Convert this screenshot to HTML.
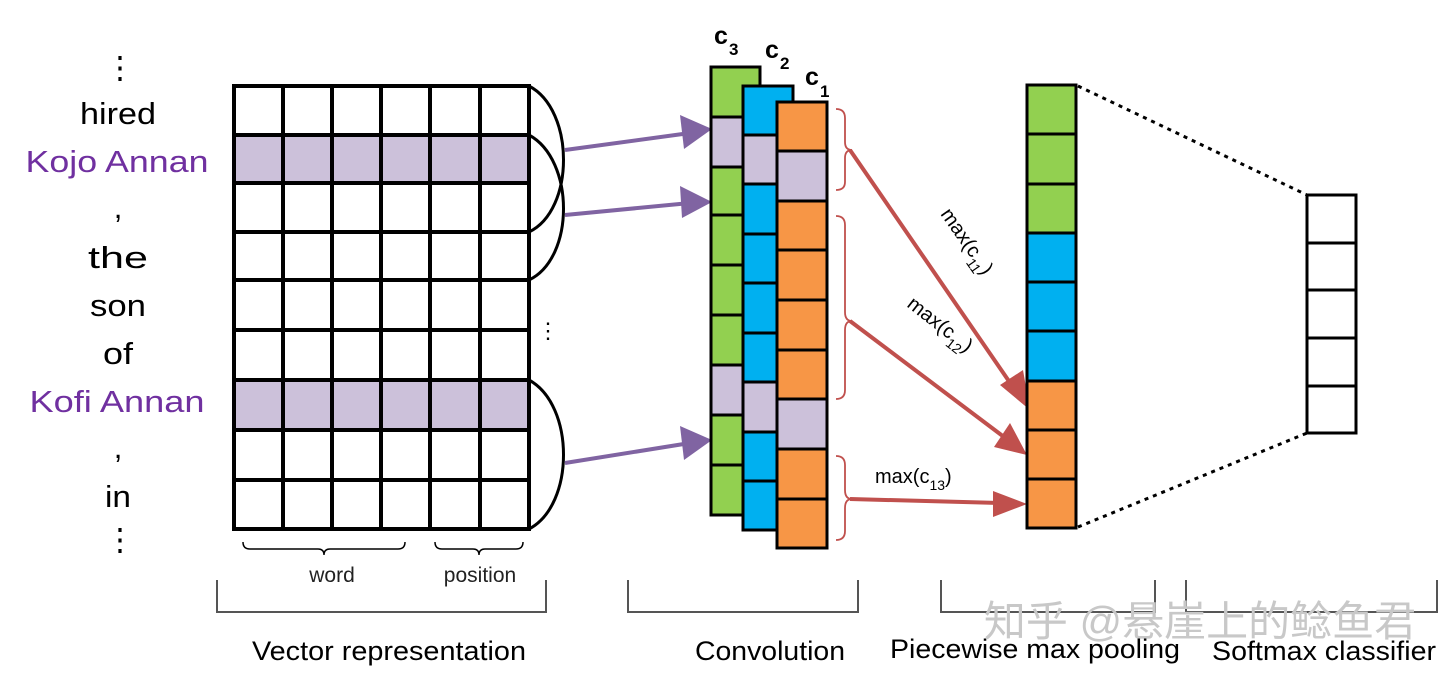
<!DOCTYPE html>
<html><head><meta charset="utf-8"><style>
html,body{margin:0;padding:0;background:#fff;width:1456px;height:678px;overflow:hidden}
text{font-family:"Liberation Sans","Noto Sans CJK SC",sans-serif}
</style></head><body>
<svg width="1456" height="678" viewBox="0 0 1456 678" xmlns="http://www.w3.org/2000/svg">
<!-- left words -->
<g font-size="31" text-anchor="middle" fill="#000" lengthAdjust="spacingAndGlyphs">
<text x="120" y="78">⋮</text>
<text x="118" y="124" textLength="76" lengthAdjust="spacingAndGlyphs">hired</text>
<text x="117" y="172" fill="#7030a0" textLength="183" lengthAdjust="spacingAndGlyphs">Kojo Annan</text>
<text x="118" y="218">,</text>
<text x="118" y="268" textLength="60" lengthAdjust="spacingAndGlyphs">the</text>
<text x="118" y="316" textLength="56" lengthAdjust="spacingAndGlyphs">son</text>
<text x="118" y="364" textLength="30" lengthAdjust="spacingAndGlyphs">of</text>
<text x="117" y="412" fill="#7030a0" textLength="175" lengthAdjust="spacingAndGlyphs">Kofi Annan</text>
<text x="118" y="458">,</text>
<text x="118" y="507" textLength="26" lengthAdjust="spacingAndGlyphs">in</text>
<text x="120" y="550">⋮</text>
</g>
<!-- grid -->
<rect x="234" y="135" width="295" height="48" fill="#ccc1da"/>
<rect x="234" y="380" width="295" height="50" fill="#ccc1da"/>
<g stroke="#000" stroke-width="4" fill="none">
<rect x="234" y="86" width="295" height="443"/>
<path d="M283,86V529M332,86V529M381,86V529M430,86V529M480,86V529"/>
<path d="M234,135H529M234,183H529M234,232H529M234,280H529M234,330H529M234,380H529M234,430H529M234,480H529"/>
</g>
<g stroke="#000" stroke-width="3" fill="none">
<path d="M529,86 C575,110 575,210 529,232"/>
<path d="M529,135 C575,160 575,258 529,280"/>
<path d="M529,380 C575,405 575,505 529,529"/>
</g>
<text x="548" y="338" font-size="22" text-anchor="middle">⋮</text>
<!-- purple arrows -->
<g stroke="#8064a2" stroke-width="4" fill="#8064a2">
<line x1="565" y1="150" x2="690" y2="133"/>
<line x1="565" y1="215" x2="690" y2="203"/>
<line x1="565" y1="463" x2="690" y2="443"/>
<path d="M712,129 L680,115 L684,149z" stroke="none"/>
<path d="M712,202 L680,186 L682,218z" stroke="none"/>
<path d="M712,440 L680,426 L684,460z" stroke="none"/>
</g>
<!-- conv columns -->
<g stroke="#000" stroke-width="3">
<g>
<rect x="711" y="67" width="49" height="448" fill="#92d050"/>
<rect x="711" y="117" width="49" height="50" fill="#ccc1da"/>
<rect x="711" y="365" width="49" height="50" fill="#ccc1da"/>
<path d="M711,117H760M711,167H760M711,215H760M711,265H760M711,315H760M711,365H760M711,415H760M711,465H760" fill="none"/>
</g>
<g>
<rect x="743" y="86" width="50" height="444" fill="#00b0f0"/>
<rect x="743" y="135" width="50" height="49" fill="#ccc1da"/>
<rect x="743" y="382" width="50" height="50" fill="#ccc1da"/>
<path d="M743,135H793M743,184H793M743,234H793M743,283H793M743,333H793M743,382H793M743,432H793M743,481H793" fill="none"/>
</g>
<g>
<rect x="777" y="102" width="50" height="446" fill="#f79646"/>
<rect x="777" y="151" width="50" height="50" fill="#ccc1da"/>
<rect x="777" y="399" width="50" height="50" fill="#ccc1da"/>
<path d="M777,151H827M777,201H827M777,250H827M777,300H827M777,350H827M777,399H827M777,449H827M777,499H827" fill="none"/>
</g>
</g>
<g font-size="25" font-weight="bold">
<text x="714" y="44">c</text><text x="729" y="55" font-size="17">3</text>
<text x="765" y="58">c</text><text x="780" y="69" font-size="17">2</text>
<text x="805" y="85">c</text><text x="820" y="97" font-size="17">1</text>
</g>
<!-- braces -->
<g stroke="#c0504d" stroke-width="1.8" fill="none">
<path d="M836,109 Q845,109 845,118 L845,142 Q845,150 852,150 Q845,150 845,158 L845,182 Q845,190 836,190"/>
<path d="M836,216 Q845,216 845,225 L845,312 Q845,321 852,321 Q845,321 845,330 L845,390 Q845,399 836,399"/>
<path d="M836,456 Q845,456 845,465 L845,490 Q845,499 852,499 Q845,499 845,508 L845,531 Q845,540 836,540"/>
</g>
<!-- red arrows -->
<g stroke="#c0504d" stroke-width="4" fill="#c0504d">
<line x1="850" y1="150" x2="1015" y2="390"/>
<line x1="850" y1="321" x2="1008" y2="440"/>
<line x1="850" y1="499" x2="1000" y2="503"/>
<path d="M1030,410 L1000,385 L1023,370z" stroke="none"/>
<path d="M1027,455 L994,447 L1010,423z" stroke="none"/>
<path d="M1027,504 L993,491 L993,517z" stroke="none"/>
</g>
<g font-size="20">
<text transform="translate(940,214) rotate(55)">max(c<tspan font-size="14" dy="7">11</tspan><tspan dy="-7">)</tspan></text>
<text transform="translate(906,306) rotate(38)">max(c<tspan font-size="14" dy="7">12</tspan><tspan dy="-7">)</tspan></text>
<text x="875" y="483">max(c<tspan font-size="14" dy="7">13</tspan><tspan dy="-7">)</tspan></text>
</g>
<!-- pooling column -->
<g stroke="#000" stroke-width="3">
<rect x="1027" y="85" width="49" height="148" fill="#92d050"/>
<rect x="1027" y="233" width="49" height="148" fill="#00b0f0"/>
<rect x="1027" y="381" width="49" height="147" fill="#f79646"/>
<path d="M1027,134H1076M1027,184H1076M1027,282H1076M1027,331H1076M1027,430H1076M1027,479H1076" fill="none"/>
</g>
<g stroke="#000" stroke-width="3" stroke-dasharray="4,5" fill="none">
<line x1="1078" y1="86" x2="1307" y2="195"/>
<line x1="1078" y1="527" x2="1307" y2="433"/>
</g>
<g stroke="#000" stroke-width="3" fill="#fff">
<rect x="1307" y="195" width="49" height="238"/>
<path d="M1307,243H1356M1307,290H1356M1307,338H1356M1307,386H1356" fill="none"/>
</g>
<!-- bottom small braces -->
<g stroke="#000" stroke-width="1.5" fill="none">
<path d="M243,542 Q243,549 250,549 L318,549 Q324,549 324,555 Q324,549 330,549 L398,549 Q405,549 405,542"/>
<path d="M435,542 Q435,549 442,549 L473,549 Q479,549 479,555 Q479,549 485,549 L516,549 Q523,549 523,542"/>
</g>
<g font-size="21" text-anchor="middle" fill="#222">
<text x="332" y="582">word</text>
<text x="480" y="582">position</text>
</g>
<!-- big brackets -->
<g stroke="#555" stroke-width="2" fill="none">
<path d="M217,580V612H546V580"/>
<path d="M628,580V612H858V580"/>
<path d="M941,580V612H1155V580"/>
<path d="M1186,580V612H1437V580"/>
</g>
<text x="1200" y="636" font-size="42" fill="#c8c8c8" text-anchor="middle" font-family="Noto Sans CJK SC, sans-serif">知乎 @悬崖上的鲶鱼君</text>
<g font-size="27" text-anchor="middle" fill="#000">
<text x="389" y="660" textLength="274" lengthAdjust="spacingAndGlyphs">Vector representation</text>
<text x="770" y="660" textLength="150" lengthAdjust="spacingAndGlyphs">Convolution</text>
<text x="1035" y="658" textLength="290" lengthAdjust="spacingAndGlyphs">Piecewise max pooling</text>
<text x="1324" y="660" textLength="224" lengthAdjust="spacingAndGlyphs">Softmax classifier</text>
</g>
</svg>
</body></html>
